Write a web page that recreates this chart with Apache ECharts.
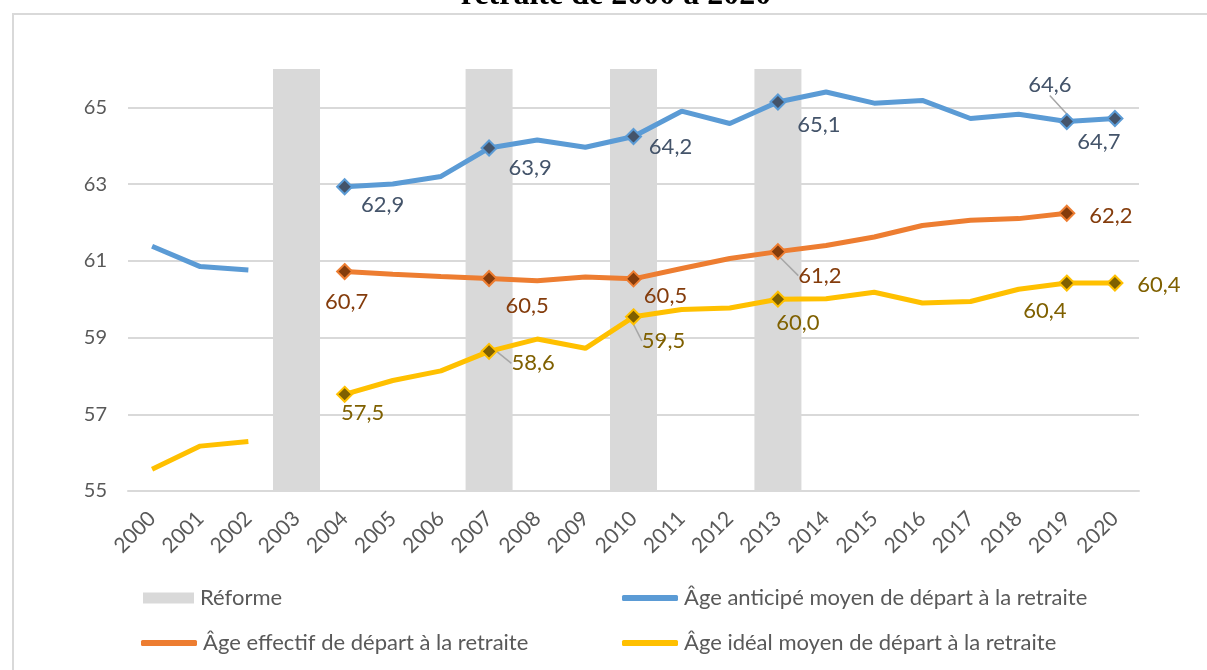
<!DOCTYPE html>
<html>
<head>
<meta charset="utf-8">
<script src="https://cdn.jsdelivr.net/npm/echarts@6/dist/echarts.min.js"></script>
<style>
    html, body { margin: 0; padding: 0; background: #fff; }
    #chart { width: 1207px; height: 670px; }
</style>
</head>
<body>
<div id="chart"></div>
<script>
// années en abscisse
const years = ['2000', '2001', '2002', '2003', '2004', '2005', '2006', '2007', '2008', '2009', '2010',
    '2011', '2012', '2013', '2014', '2015', '2016', '2017', '2018', '2019', '2020']
const reformYears = ['2003', '2007', '2010', '2013']
const labelYears = ['2004', '2007', '2010', '2013', '2019', '2020']

const anticipe = [61.38, 60.85, 60.76, null, 62.93, 63.0, 63.2, 63.94, 64.15, 63.96, 64.24, 64.9, 64.58,
    65.14, 65.4, 65.11, 65.18, 64.71, 64.82, 64.63, 64.71]
const effectif = [null, null, null, null, 60.72, 60.65, 60.59, 60.54, 60.48, 60.58, 60.53, 60.8, 61.06,
    61.24, 61.4, 61.62, 61.92, 62.06, 62.1, 62.24, null]
const ideal = [55.57, 56.17, 56.29, null, 57.52, 57.88, 58.13, 58.64, 58.96, 58.72, 59.54, 59.73, 59.77,
    60.0, 60.01, 60.18, 59.9, 59.94, 60.26, 60.42, 60.42]

const yMin = 55
const yMax = 66
const yStep = 2

// décalage des étiquettes par rapport au point (dx, dy) et lignes de rappel
const labelShift = {
    anticipe: { '2004': [38, 18], '2007': [41, 20], '2010': [37, 10], '2013': [41, 23], '2019': [-17, -37], '2020': [-16, 23] },
    effectif: { '2004': [2, 30], '2007': [38, 27], '2010': [32, 17], '2013': [42, 24], '2019': [44, 3] },
    ideal: { '2004': [18, 19], '2007': [44, 12], '2010': [30, 24], '2013': [20, 24], '2019': [-22, 28], '2020': [44, 2] }
}
const leaders = {
    anticipe: ['2019'],
    effectif: ['2013'],
    ideal: ['2007', '2010']
}

const font = 'Lato'
const grey = '#595959'

function fmt(v) {
    return v.toFixed(1).replace('.', ',')
}

function buildData(values, key, dark) {
    return values.map((v, i) => {
        if (v === null) return null
        if (labelYears.indexOf(years[i]) < 0) return v
        return {
            value: v,
            symbol: 'diamond',
            symbolSize: 15,
            itemStyle: { color: dark },
            label: { show: true },
            labelLine: { show: leaders[key].indexOf(years[i]) >= 0 }
        }
    })
}

function lineSeries(name, key, values, color, dark) {
    return {
        name: name,
        type: 'line',
        data: buildData(values, key, dark),
        symbol: 'none',
        showAllSymbol: true,
        connectNulls: false,
        lineStyle: { color: color, width: 5 },
        itemStyle: { color: dark, borderColor: color, borderWidth: 2 },
        label: {
            show: false,
            position: 'inside',
            color: dark,
            fontFamily: font,
            fontSize: 22,
            formatter: p => fmt(p.value)
        },
        labelLine: {
            show: false,
            lineStyle: { color: '#A6A6A6', width: 1.5 }
        },
        labelLayout: function (p) {
            const s = labelShift[key][years[p.dataIndex]] || [0, 0]
            return { dx: s[0], dy: s[1] }
        },
        emphasis: { disabled: true },
        z: 3
    }
}

function legendBox(name, color, left, top, icon, w, h) {
    return {
        data: [{ name: name, itemStyle: { color: color, borderWidth: 0 } }],
        left: left,
        top: top,
        padding: 0,
        icon: icon,
        itemWidth: w,
        itemHeight: h,
        selectedMode: false,
        textStyle: { color: grey, fontFamily: font, fontSize: 22, lineHeight: 24, padding: [0, 0, 0, 1] }
    }
}

const chart = echarts.init(document.getElementById('chart'))
chart.setOption({
    animation: false,
    backgroundColor: '#fff',
    graphic: [
        {
            type: 'rect',
            shape: { x: 13, y: 14, width: 1400, height: 1000 },
            style: { fill: 'none', stroke: '#D9D9D9', lineWidth: 2 },
            silent: true
        },
        {
            type: 'text',
            x: 616,
            y: -4,
            style: {
                text: 'retraite de 2000 à 2020',
                font: 'bold 32px "Liberation Serif"',
                fill: '#000',
                align: 'center',
                verticalAlign: 'middle'
            },
            silent: true
        }
    ],
    grid: {
        left: 128,
        right: 68,
        top: 69,
        bottom: 179
    },
    legend: [
        legendBox('Réforme', '#D9D9D9', 143, 586, 'rect', 51, 11),
        legendBox('Âge anticipé moyen de départ à la retraite', '#5B9BD5', 622, 586, 'roundRect', 56, 6),
        legendBox('Âge effectif de départ à la retraite', '#ED7D31', 141, 631, 'roundRect', 56, 6),
        legendBox('Âge idéal moyen de départ à la retraite', '#FFC000', 622, 631, 'roundRect', 56, 6)
    ],
    xAxis: {
        type: 'category',
        data: years,
        boundaryGap: true,
        axisLine: { lineStyle: { color: '#D9D9D9', width: 2 } },
        axisTick: { show: false },
        axisLabel: {
            rotate: 45,
            interval: 0,
            margin: 24,
            color: grey,
            fontFamily: font,
            fontSize: 21
        }
    },
    yAxis: {
        type: 'value',
        min: yMin,
        max: yMax,
        interval: yStep,
        axisLine: { show: false },
        axisTick: { show: false },
        axisLabel: {
            margin: 21,
            color: grey,
            fontFamily: font,
            fontSize: 20,
            showMaxLabel: false
        },
        splitLine: {
            showMaxLine: false,
            lineStyle: { color: '#D9D9D9', width: 2 }
        }
    },
    series: [
        {
            name: 'Réforme',
            type: 'bar',
            data: years.map(y => reformYears.indexOf(y) >= 0 ? yMax : null),
            barWidth: 47,
            itemStyle: { color: '#D9D9D9' },
            emphasis: { disabled: true },
            z: 1
        },
        lineSeries('Âge anticipé moyen de départ à la retraite', 'anticipe', anticipe, '#5B9BD5', '#44546A'),
        lineSeries('Âge effectif de départ à la retraite', 'effectif', effectif, '#ED7D31', '#843C0C'),
        lineSeries('Âge idéal moyen de départ à la retraite', 'ideal', ideal, '#FFC000', '#7F6000')
    ]
})
</script>
</body>
</html>
